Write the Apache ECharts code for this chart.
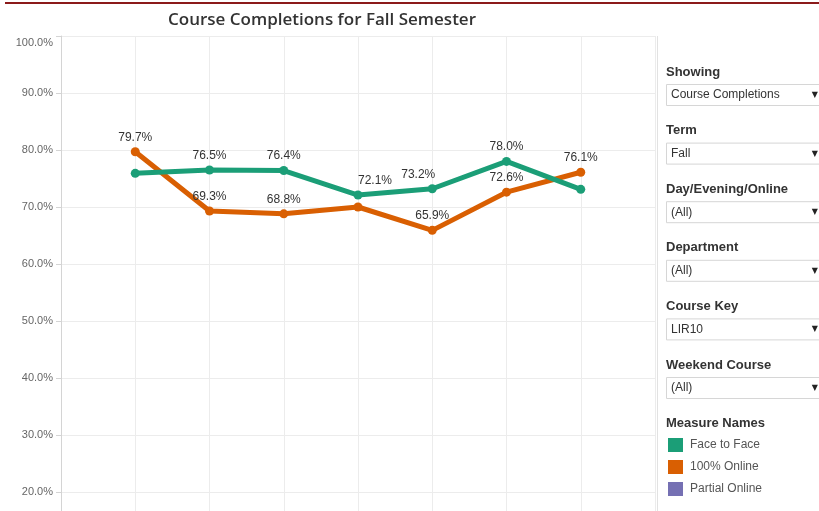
<!DOCTYPE html>
<html>
<head>
<meta charset="utf-8">
<script src="https://cdn.jsdelivr.net/npm/echarts@6/dist/echarts.min.js"></script>
<style>
  html, body { margin: 0; padding: 0; background: #fff; overflow: hidden; }
  #chart { width: 819px; height: 606px; }
</style>
</head>
<body>
<div id="chart"></div>
<script>
// x slots: the 7 terms sit between empty edge slots (no labels in the source)
const slots = ['', 'T1', 'T2', 'T3', 'T4', 'T5', 'T6', 'T7', '']
const faceToFace = [null, 75.9, 76.5, 76.4, 72.1, 73.2, 78.0, 73.1, null]
const online100 = [null, 79.7, 69.3, 68.8, 70.0, 65.9, 72.6, 76.1, null]
const partialOnline = []
// which points carry a value label
const ftfLabeled = [2, 3, 4, 5, 6]
const onlineLabeled = [1, 2, 3, 5, 6, 7]

const yTicks = [0, 100, 10] // min, max, step

const filters = [
  ['Showing', 'Course Completions'],
  ['Term', 'Fall'],
  ['Day/Evening/Online', '(All)'],
  ['Department', '(All)'],
  ['Course Key', 'LIR10'],
  ['Weekend Course', '(All)'],
]

const GREEN = '#1b9e77'
const ORANGE = '#d95f02'
const PURPLE = '#7570b3'

const labelOffsets = { ftf: { 4: [17, 0], 5: [-14, 0] } }

function makeData(values, labeled, offsets) {
  return values.map((v, i) => {
    if (v == null) return null
    const item = { value: v }
    if (labeled.indexOf(i) >= 0) {
      item.label = { show: true }
      if (offsets && offsets[i]) item.label.offset = offsets[i]
    } else {
      item.label = { show: false }
    }
    return item
  })
}

const labelStyle = {
  position: 'top',
  distance: 4,
  color: '#333',
  fontSize: 12,
  fontFamily: 'Liberation Sans, Arial, sans-serif',
  formatter: p => p.value.toFixed(1) + '%',
}

const graphics = [
  { type: 'line', shape: { x1: 5, y1: 3, x2: 819, y2: 3 }, style: { stroke: '#8b1a1a', lineWidth: 2 } },
  { type: 'line', shape: { x1: 657.5, y1: 36, x2: 657.5, y2: 606 }, style: { stroke: '#e2e2e2', lineWidth: 1 } },
  {
    type: 'text', x: 322, y: 20,
    style: {
      text: 'Course Completions for Fall Semester', align: 'center', verticalAlign: 'middle',
      fill: '#333', font: '600 17px "Open Sans", sans-serif',
    },
  },
]

filters.forEach((f, i) => {
  const top = 72 + i * 58.6
  graphics.push({
    type: 'text', x: 666, y: top,
    style: { text: f[0], verticalAlign: 'middle', fill: '#333', font: 'bold 13px "Liberation Sans", Arial, sans-serif' },
  })
  graphics.push({
    type: 'rect', shape: { x: 666.5, y: top + 12.5, width: 160, height: 21 },
    style: { fill: '#fff', stroke: '#d6d6d6', lineWidth: 1 },
  })
  graphics.push({
    type: 'text', x: 671, y: top + 23,
    style: { text: f[1], verticalAlign: 'middle', fill: '#333', font: '12px "Liberation Sans", Arial, sans-serif' },
  })
  graphics.push({
    type: 'text', x: 818, y: top + 23,
    style: { text: '▼', align: 'right', verticalAlign: 'middle', fill: '#222', font: '8px "DejaVu Sans", sans-serif' },
  })
})
graphics.push({
  type: 'text', x: 666, y: 423,
  style: { text: 'Measure Names', verticalAlign: 'middle', fill: '#333', font: 'bold 13px "Liberation Sans", Arial, sans-serif' },
})

const chart = echarts.init(document.getElementById('chart'))
chart.setOption({
  animation: false,
  backgroundColor: '#fff',
  textStyle: { fontFamily: 'Liberation Sans, Arial, sans-serif' },
  grid: { left: 61, top: 36, right: 164, bottom: 0, outerBoundsMode: 'none', containLabel: false },
  legend: {
    orient: 'vertical',
    left: 668,
    top: 438,
    padding: 0,
    icon: 'rect',
    itemWidth: 15,
    itemHeight: 14,
    itemGap: 8,
    textStyle: { color: '#555', fontSize: 12, padding: [0, 0, 0, 2] },
    data: ['Face to Face', '100% Online', 'Partial Online'],
  },
  xAxis: {
    type: 'category',
    data: slots,
    boundaryGap: false,
    axisLine: { show: false },
    axisTick: { show: false },
    axisLabel: { show: false },
    splitLine: { show: true, interval: 0, lineStyle: { color: '#ececec' } },
  },
  yAxis: {
    type: 'value',
    min: yTicks[0],
    max: yTicks[1],
    interval: yTicks[2],
    axisLine: { show: true, lineStyle: { color: '#d4d4d4' } },
    axisTick: { show: true, length: 5, lineStyle: { color: '#d4d4d4' } },
    axisLabel: {
      color: '#666', fontSize: 11, margin: 8,
      formatter: v => (v === yTicks[1] ? '{top|' + v.toFixed(1) + '%}' : v.toFixed(1) + '%'),
      rich: { top: { color: '#666', fontSize: 11, padding: [14, 0, 0, 0] } },
    },
    splitLine: { lineStyle: { color: '#ececec' } },
  },
  series: [
    {
      name: 'Face to Face', type: 'line', color: GREEN,
      data: makeData(faceToFace, ftfLabeled, labelOffsets.ftf),
      lineStyle: { width: 5 }, symbol: 'circle', symbolSize: 9, showAllSymbol: true,
      label: labelStyle, z: 3,
    },
    {
      name: '100% Online', type: 'line', color: ORANGE,
      data: makeData(online100, onlineLabeled),
      lineStyle: { width: 5 }, symbol: 'circle', symbolSize: 9, showAllSymbol: true,
      label: labelStyle, z: 2,
    },
    { name: 'Partial Online', type: 'line', color: PURPLE, data: partialOnline },
  ],
  graphic: graphics,
})
</script>
</body>
</html>
